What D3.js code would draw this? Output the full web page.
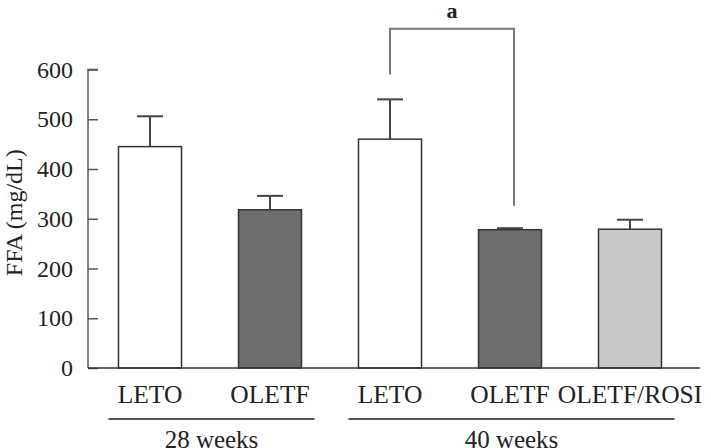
<!DOCTYPE html>
<html>
<head>
  <style>
    body { margin: 0; background: #fff; }
    text { font-family: "Liberation Serif", "DejaVu Serif", serif; fill: #222; }
  </style>
  <script src="https://d3js.org/d3.v7.min.js"></script>
</head>
<body>
  <script>
    // data
    const groups = ['LETO', 'OLETF', 'LETO', 'OLETF', 'OLETF/ROSI'];
    const means = [445, 318, 460, 278, 279];
    const errs = [61, 28, 80, 3, 19];
    const fills = ['#ffffff', '#6e6e6e', '#ffffff', '#6e6e6e', '#c8c8c8'];
    const yTicks = [0, 100, 200, 300, 400, 500, 600];
    const periods = [
      { label: '28 weeks', from: 0, to: 1 },
      { label: '40 weeks', from: 2, to: 4 }
    ];
    // significance bracket between LETO 40w and OLETF 40w
    const bracket = { a: 2, b: 3, top: 682, left: 590, right: 326, mark: 'a' };

    const width = 711, height = 448;

    const svg = d3.select('body').append('svg')
      .attr('width', width)
      .attr('height', height);

    const x = d3.scaleBand()
      .domain(d3.range(groups.length))
      .range([90, 690])
      .paddingInner(0.475)
      .paddingOuter(0.2375);

    const y = d3.scaleLinear()
      .domain([0, 600])
      .range([368, 69.5]);

    const cx = i => x(i) + x.bandwidth() / 2;

    // y axis (ticks pointing inward)
    const yAxis = svg.append('g')
      .attr('transform', 'translate(88,0)')
      .call(d3.axisRight(y).tickValues(yTicks).tickSize(10).tickFormat(''));
    yAxis.select('.domain').attr('stroke', '#555').attr('stroke-width', 1.5).attr('d', `M10,${y(600)}H0V${y(0)}`);
    yAxis.selectAll('.tick line').attr('stroke', '#555').attr('stroke-width', 1.5);

    svg.append('g').selectAll('text')
      .data(yTicks)
      .join('text')
      .attr('x', 73)
      .attr('y', d => y(d))
      .attr('dy', '0.34em')
      .attr('text-anchor', 'end')
      .style('font-size', '24px')
      .text(d => d);

    svg.append('text')
      .attr('transform', `translate(22,${y(300) - 6}) rotate(-90)`)
      .attr('text-anchor', 'middle')
      .style('font-size', '24px')
      .text('FFA (mg/dL)');

    // bars
    svg.append('g').selectAll('rect')
      .data(means)
      .join('rect')
      .attr('x', (d, i) => x(i))
      .attr('y', d => y(d))
      .attr('width', x.bandwidth())
      .attr('height', d => y(0) - y(d))
      .attr('fill', (d, i) => fills[i])
      .attr('stroke', '#333')
      .attr('stroke-width', 1.5);

    // error bars
    const eb = svg.append('g').attr('stroke', '#444').attr('stroke-width', 2);
    eb.selectAll('line.v')
      .data(means)
      .join('line')
      .attr('class', 'v')
      .attr('x1', (d, i) => cx(i)).attr('x2', (d, i) => cx(i))
      .attr('y1', d => y(d)).attr('y2', (d, i) => y(d + errs[i]));
    eb.selectAll('line.c')
      .data(means)
      .join('line')
      .attr('class', 'c')
      .attr('x1', (d, i) => cx(i) - 13).attr('x2', (d, i) => cx(i) + 13)
      .attr('y1', (d, i) => y(d + errs[i])).attr('y2', (d, i) => y(d + errs[i]));

    // x baseline
    svg.append('line')
      .attr('x1', 88).attr('x2', 700)
      .attr('y1', y(0)).attr('y2', y(0))
      .attr('stroke', '#333').attr('stroke-width', 1.5);

    // group labels
    svg.append('g').selectAll('text')
      .data(groups)
      .join('text')
      .attr('x', (d, i) => cx(i))
      .attr('y', 403)
      .attr('text-anchor', 'middle')
      .style('font-size', '25.5px')
      .text(d => d);

    // period lines + labels
    const pg = svg.append('g').selectAll('g')
      .data(periods)
      .join('g');
    pg.append('line')
      .attr('x1', d => x(d.from) - 10)
      .attr('x2', d => x(d.to) + x.bandwidth() + 13)
      .attr('y1', 419).attr('y2', 419)
      .attr('stroke', '#555').attr('stroke-width', 2);
    pg.append('text')
      .attr('x', d => (x(d.from) - 10 + x(d.to) + x.bandwidth() + 13) / 2)
      .attr('y', 448)
      .attr('text-anchor', 'middle')
      .style('font-size', '25px')
      .text(d => d.label);

    // significance bracket
    svg.append('path')
      .attr('d', `M${cx(bracket.a)},${y(bracket.left)}V${y(bracket.top)}H${cx(bracket.b) + 4}V${y(bracket.right)}`)
      .attr('fill', 'none')
      .attr('stroke', '#777')
      .attr('stroke-width', 2);
    svg.append('text')
      .attr('x', (cx(bracket.a) + cx(bracket.b) + 4) / 2)
      .attr('y', 18)
      .attr('text-anchor', 'middle')
      .style('font-size', '22px')
      .style('font-weight', 'bold')
      .text(bracket.mark);
  </script>
</body>
</html>
